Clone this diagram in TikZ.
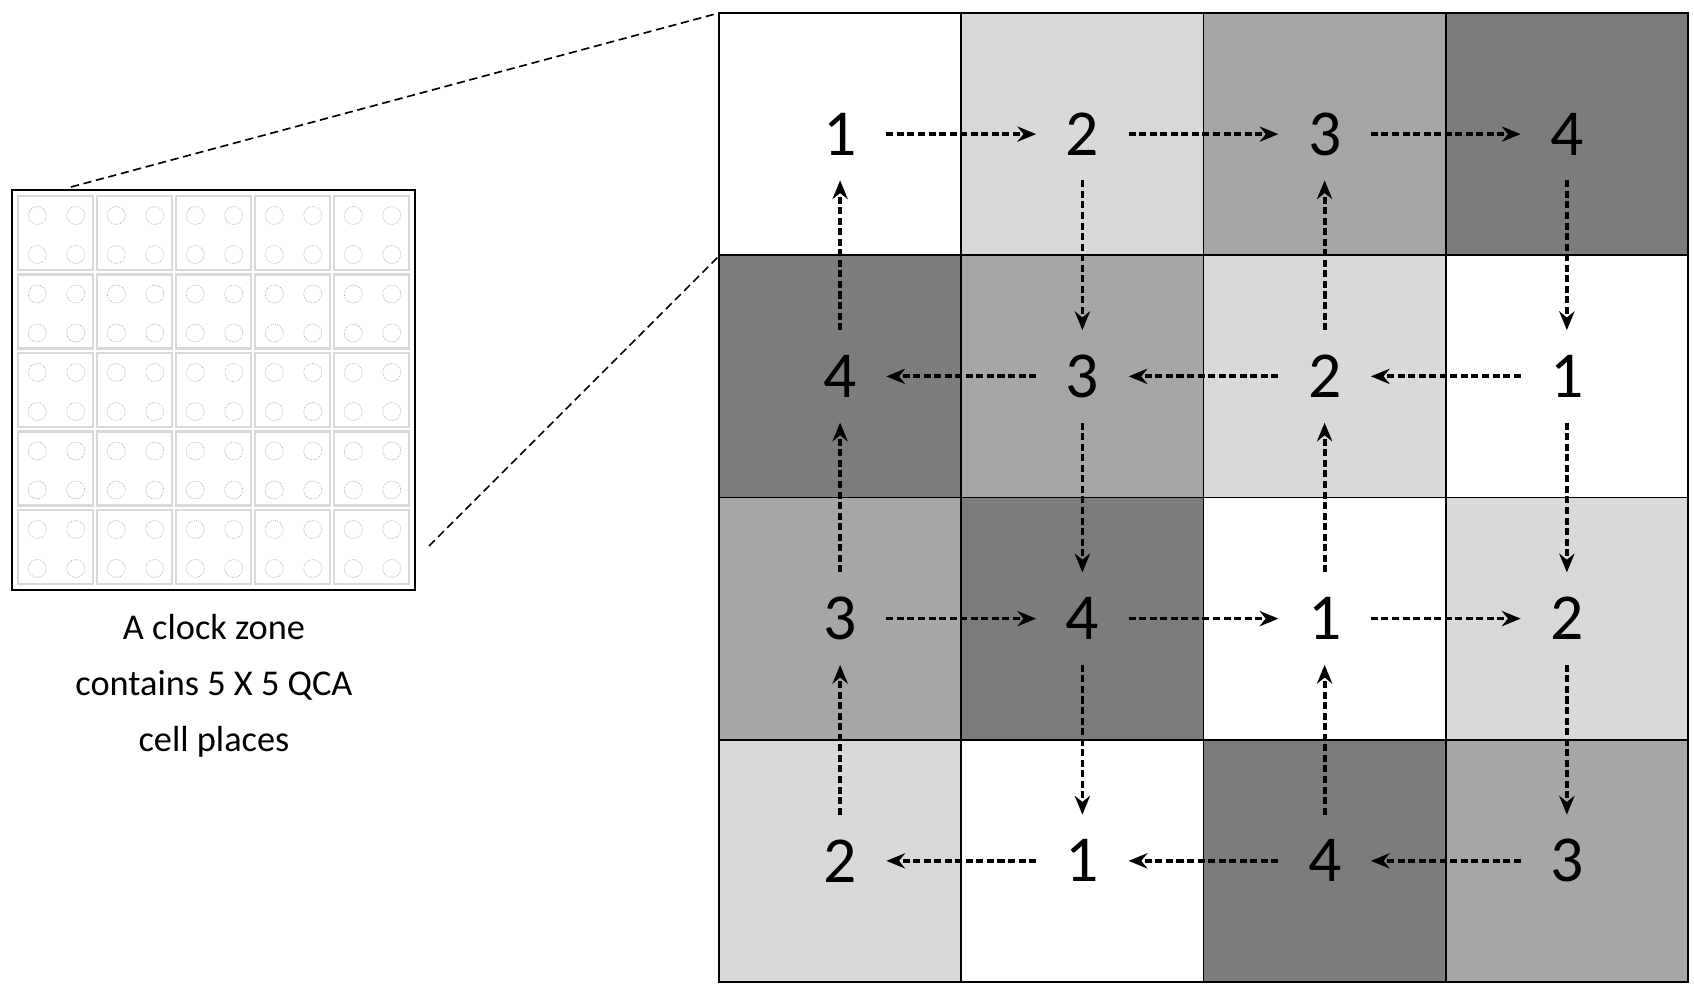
\documentclass[tikz,border=0pt]{standalone}
\usepackage{fontspec}
\setmainfont{Carlito}
\usetikzlibrary{arrows.meta}
\definecolor{cA}{HTML}{FFFFFF}
\definecolor{cB}{HTML}{D9D9D9}
\definecolor{cC}{HTML}{A6A6A6}
\definecolor{cD}{HTML}{7C7C7C}
\begin{document}
\begin{tikzpicture}[x=0.03cm,y=-0.03cm,
  num/.style={minimum width=2.76cm,minimum height=2.76cm,inner sep=0pt,font=\fontsize{56}{60}\selectfont},
  flow/.style={line width=3.2pt,dash pattern=on 6pt off 3pt,-{Stealth[length=16pt,width=13pt]}},
  zoomline/.style={line width=1.4pt,dash pattern=on 7pt off 4pt}]
\useasboundingbox (0,0) rectangle (1694,993);
\fill[white] (0,0) rectangle (1694,993);
% grid
\def\cw{242.25}
\foreach \r/\row in {1/{1,2,3,4},2/{4,3,2,1},3/{3,4,1,2},4/{2,1,4,3}}{
  \foreach \v [count=\c] in \row {
    \ifcase\v\or\def\col{cA}\or\def\col{cB}\or\def\col{cC}\or\def\col{cD}\fi
    \fill[\col] ({719+(\c-1)*\cw},{13+(\r-1)*\cw}) rectangle ++(\cw,\cw);
    \node[num] (n-\r-\c) at ({719+(\c-0.5)*\cw},{13+(\r-0.5)*\cw}) {\v};
  }
}
\foreach \i in {1,2,3}{
  \draw[line width=1.3pt] ({719+\i*\cw},13) -- ++(0,969);
  \draw[line width=1.3pt] (719,{13+\i*\cw}) -- ++(969,0);
}
\draw[line width=1.6pt] (719,13) rectangle (1688,982);
% arrows
\foreach \a/\b in {1-1/1-2,1-2/1-3,1-3/1-4,1-4/2-4,2-4/2-3,2-3/2-2,2-2/2-1,
  2-4/3-4,3-4/4-4,4-4/4-3,4-3/4-2,4-2/4-1,4-1/3-1,3-1/2-1,2-1/1-1,
  1-2/2-2,2-2/3-2,3-2/4-2,4-3/3-3,3-3/2-3,2-3/1-3,3-1/3-2,3-2/3-3,3-3/3-4}
  \draw[flow] (n-\a) -- (n-\b);
% left panel
\coordinate (zt) at (71,187);
\coordinate (zr) at (429,546);
\foreach \i in {0,...,4}{
  \foreach \j in {0,...,4}{
    \draw[black!15,line width=2pt] ({18+\i*79},{196+\j*78.5}) rectangle ++(75,74);
    \foreach \p in {0.25,0.75}{\foreach \q in {0.25,0.75}{
      \draw[black!35,densely dotted,line width=0.6pt] ({18+\i*79+\p*77},{196+\j*78.5+\q*78}) circle (9);
    }}
  }
}
\draw[line width=1.8pt] (12,190) rectangle (415,590);
\coordinate (g1) at (719,13);
\coordinate (g2) at (719,256);
\draw[zoomline] (zt) -- (g1);
\draw[zoomline] (zr) -- (g2);
\node[align=center,font=\fontsize{31}{48}\selectfont] (cap) at (214,686) {A clock zone\\contains 5 X 5 QCA\\cell places};
\end{tikzpicture}
\end{document}
